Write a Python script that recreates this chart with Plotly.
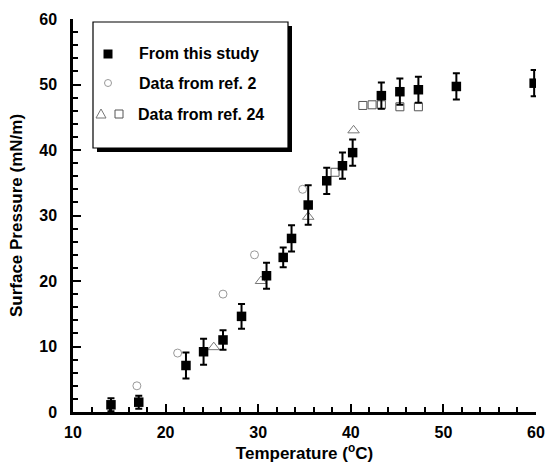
import plotly.graph_objects as go

# ---- data ----
study_T = [14.1, 17.1, 22.2, 24.1, 26.2, 28.2, 30.9, 32.7, 33.6, 35.4, 37.4, 39.1, 40.2, 43.3, 45.3, 47.3, 51.4, 59.8]
study_P = [1.1, 1.5, 7.1, 9.2, 11.0, 14.6, 20.8, 23.6, 26.5, 31.6, 35.3, 37.6, 39.6, 48.3, 48.9, 49.2, 49.7, 50.2]
study_err = [1.0, 1.0, 2.0, 2.0, 1.5, 1.9, 2.0, 1.5, 2.0, 3.0, 2.0, 2.0, 2.0, 2.0, 2.0, 2.0, 2.0, 2.0]

ref2_T = [16.9, 21.3, 26.2, 29.6, 34.8]
ref2_P = [4.0, 9.0, 18.0, 24.0, 34.0]

ref24_tri_T = [25.2, 30.3, 35.4, 40.3]
ref24_tri_P = [9.9, 20.0, 29.8, 43.0]

ref24_sq_T = [38.3, 41.3, 42.3, 43.3, 45.3, 47.3]
ref24_sq_P = [36.6, 46.8, 46.9, 46.9, 46.6, 46.6]

legend_labels = ["From this study", "Data from ref. 2", "Data from ref. 24"]
x_ticks = [10, 20, 30, 40, 50, 60]
y_ticks = [0, 10, 20, 30, 40, 50, 60]

# ---- layout geometry ----
W, H = 551, 464
ML, MR, MT, MB = 73, 15, 19, 52
PW, PH = W - ML - MR, H - MT - MB

def px(x):
    return (x - ML) / PW

def py(y):
    return (H - MB - y) / PH

FONT = "Liberation Sans, Arial, sans-serif"

fig = go.Figure()

fig.add_trace(go.Scatter(
    x=ref24_sq_T, y=ref24_sq_P, mode="markers",
    marker=dict(symbol="square-open", size=8, color="#555555", line=dict(width=1)),
    showlegend=False))
fig.add_trace(go.Scatter(
    x=ref24_tri_T, y=ref24_tri_P, mode="markers",
    marker=dict(symbol="triangle-up-open", size=10, color="#777777", line=dict(width=1)),
    showlegend=False))
fig.add_trace(go.Scatter(
    x=ref2_T, y=ref2_P, mode="markers",
    marker=dict(symbol="circle-open", size=8, color="#999999", line=dict(width=1)),
    showlegend=False))
fig.add_trace(go.Scatter(
    x=study_T, y=study_P, mode="markers",
    marker=dict(symbol="square", size=9.5, color="black"),
    error_y=dict(type="data", array=study_err, visible=True, color="black",
                 thickness=2, width=3.5),
    showlegend=False))

# ---- hand-drawn legend box ----
bx0, bx1, by0, by1 = px(93), px(288), py(148), py(22)
sx, sy = 4 / PW, 4 / PH
shapes = [
    dict(type="rect", xref="paper", yref="paper", x0=bx0 + sx, x1=bx1 + sx, y0=by0 - sy, y1=by1 - sy,
         fillcolor="black", line=dict(width=0)),
    dict(type="rect", xref="paper", yref="paper", x0=bx0, x1=bx1, y0=by0, y1=by1,
         fillcolor="white", line=dict(color="black", width=1.2)),
]

def sq(cx, cy, half, fill, color, lw=1):
    return dict(type="rect", xref="paper", yref="paper",
                x0=px(cx - half), x1=px(cx + half), y0=py(cy + half), y1=py(cy - half),
                fillcolor=fill, line=dict(color=color, width=lw))

shapes.append(sq(108, 54, 4.5, "black", "black", 0))
shapes.append(dict(type="circle", xref="paper", yref="paper",
                   x0=px(104.5), x1=px(111.5), y0=py(86.5), y1=py(79.5),
                   line=dict(color="#999999", width=1)))
tx, ty = 101, 114
shapes.append(dict(type="path", xref="paper", yref="paper",
                   path=f"M {px(tx-5)} {py(ty+4)} L {px(tx+5)} {py(ty+4)} L {px(tx)} {py(ty-5)} Z",
                   line=dict(color="#777777", width=1)))
shapes.append(sq(119, 114, 4, "rgba(0,0,0,0)", "#555555", 1))

annotations = []
for lab, yy, xx in zip(legend_labels, [54, 83, 114], [137, 137, 136]):
    annotations.append(dict(xref="paper", yref="paper", x=px(xx), y=py(yy),
                            text=lab, showarrow=False, xanchor="left", yanchor="middle",
                            font=dict(family=FONT, size=16, color="black", weight=700)))

axis_common = dict(
    showgrid=False, zeroline=False, showline=True, linecolor="black", linewidth=2.5,
    ticks="inside", ticklen=8, tickwidth=2, tickcolor="black", mirror=False,
    automargin=False,
    tickfont=dict(family=FONT, size=16, color="black", weight=700),
    minor=dict(ticks="inside", ticklen=5, tickwidth=1.5, tickcolor="black", dtick=2, showgrid=False),
)

fig.update_layout(
    width=W, height=H,
    margin=dict(l=ML, r=MR, t=MT, b=MB),
    paper_bgcolor="white", plot_bgcolor="white",
    xaxis=dict(range=[10, 60], tickvals=x_ticks, ticklabelstandoff=4,
               title=dict(text="Temperature (<sup>o</sup>C)", standoff=3,
                          font=dict(family=FONT, size=17, color="black", weight=700)),
               **axis_common),
    yaxis=dict(range=[0, 60], tickvals=y_ticks, ticklabelstandoff=10,
               title=dict(text="Surface Pressure (mN/m)", standoff=13,
                          font=dict(family=FONT, size=17, color="black", weight=700)),
               **axis_common),
    shapes=shapes,
    annotations=annotations,
    showlegend=False,
)

fig.write_html("out.html")
